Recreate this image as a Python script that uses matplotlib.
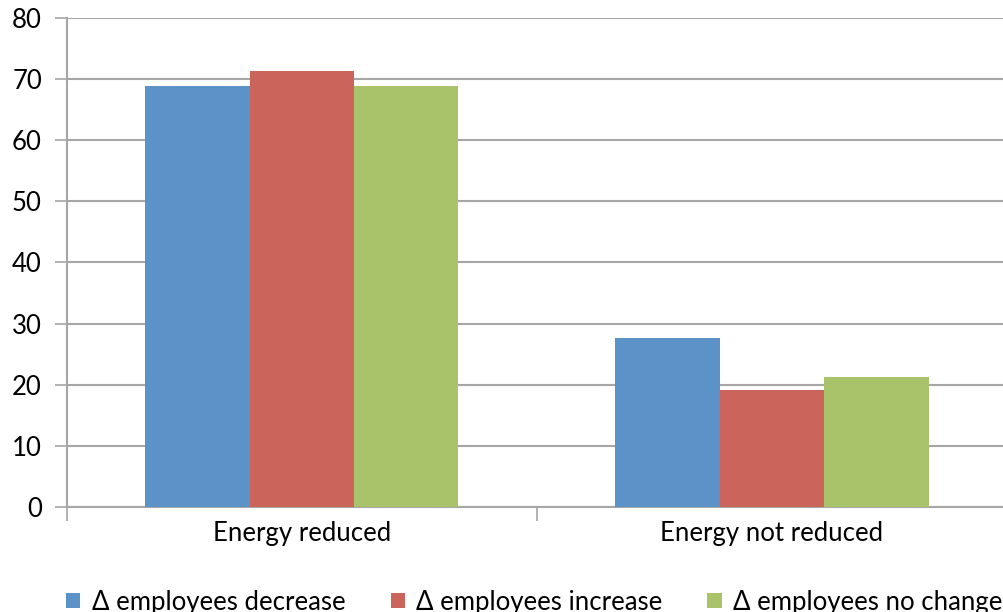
import matplotlib.pyplot as plt
import numpy as np

# Share of firms (%) by energy outcome and change in staff numbers
categories = ['Energy reduced', 'Energy not reduced']
series_names = ['\u0394 employees decrease', '\u0394 employees increase', '\u0394 employees no change']
decrease = [68.9, 27.6]
increase = [71.3, 19.1]
no_change = [68.9, 21.3]

colors = ['#5B93C8', '#CB645A', '#A9C36A']
grid_col = '#A6A6A6'

plt.rcParams['font.family'] = ['Lato', 'DejaVu Sans']

fig = plt.figure(figsize=(10.04, 6.12), dpi=100)
ax = fig.add_axes([0.0667, 0.1716, 0.9363, 0.799])

x = np.arange(len(categories))
w = 0.222
for i, (vals, name, c) in enumerate(zip([decrease, increase, no_change], series_names, colors)):
    ax.bar(x + (i - 1) * w, vals, width=w, color=c, label=name, zorder=3, linewidth=0)

ax.set_ylim(0, 80)
ax.set_yticks(range(0, 81, 10))
ax.set_xlim(-0.5, 1.5)
ax.grid(axis='y', color=grid_col, linewidth=1.5, zorder=0)

# category ticks sit between groups, labels at group centers
ax.set_xticks([-0.5, 0.5, 1.5])
ax.set_xticklabels([])
ax.set_xticks(x, minor=True)
ax.set_xticklabels(categories, minor=True, fontsize=18.5)
ax.tick_params(axis='x', which='major', length=10, color=grid_col, width=1.2)
ax.tick_params(axis='x', which='minor', length=0, pad=10)
ax.tick_params(axis='y', length=9, color=grid_col, width=1.2, labelsize=18.5, pad=9)

for s in ['top', 'right']:
    ax.spines[s].set_visible(False)
for s in ['left', 'bottom']:
    ax.spines[s].set_color(grid_col)
    ax.spines[s].set_linewidth(1.5)

fig.legend(loc='lower left', bbox_to_anchor=(0.043, -0.042), ncol=3, frameon=False,
           fontsize=18.5, handlelength=0.55, handleheight=0.55, handletextpad=0.45,
           columnspacing=1.75)

fig.savefig('out.png', dpi=100)
